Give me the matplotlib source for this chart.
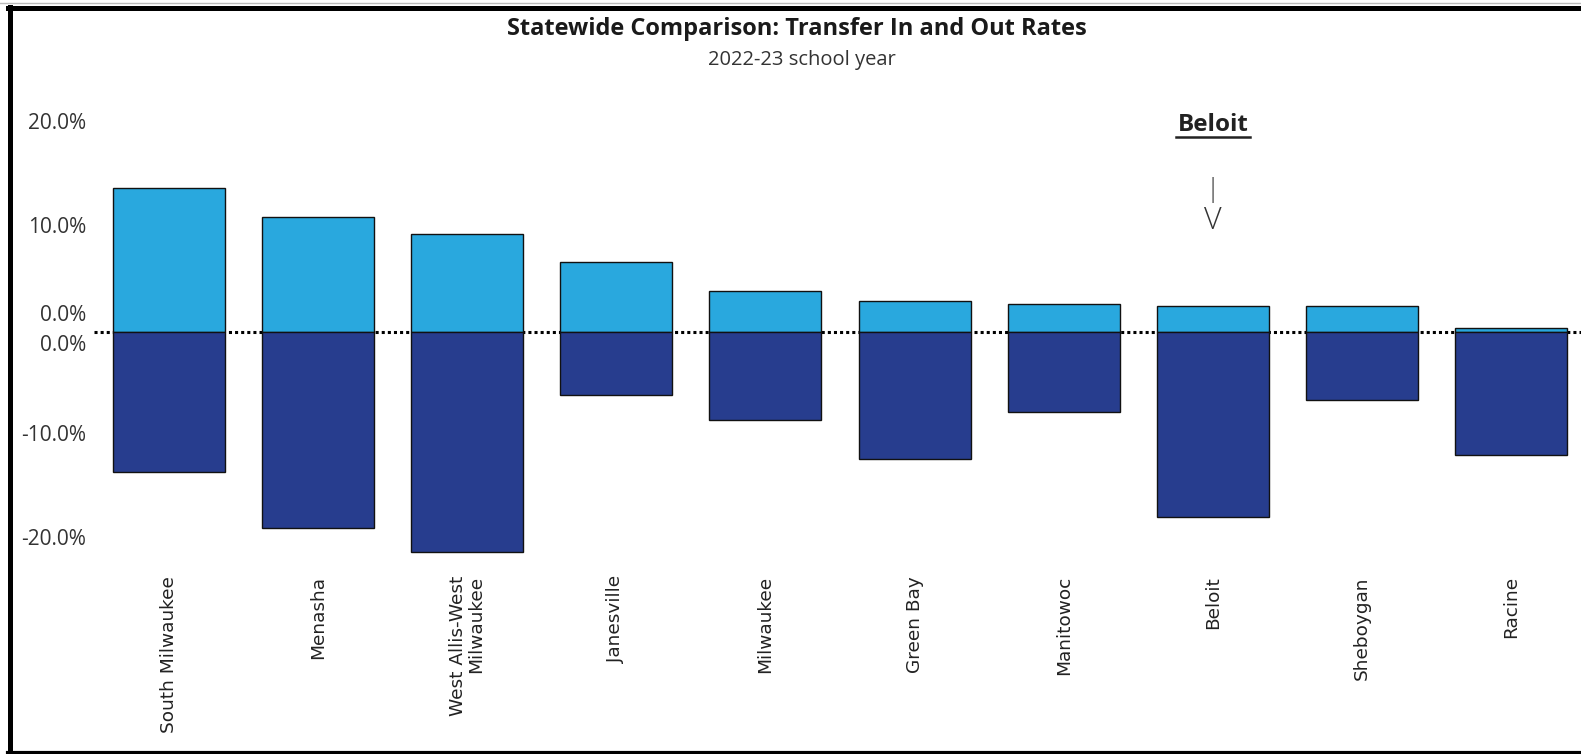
import matplotlib
matplotlib.use("Agg")
import matplotlib.pyplot as plt
from matplotlib.lines import Line2D
from matplotlib.transforms import blended_transform_factory

plt.rcParams['font.family'] = ['Open Sans', 'DejaVu Sans']

districts = ["South Milwaukee", "Menasha", "West Allis-West\nMilwaukee", "Janesville",
             "Milwaukee", "Green Bay", "Manitowoc", "Beloit", "Sheboygan", "Racine"]
transfer_in = [13.8, 11.0, 9.4, 6.7, 3.9, 2.95, 2.65, 2.5, 2.5, 0.3]
transfer_out = [-13.5, -18.9, -21.2, -6.1, -8.5, -12.25, -7.75, -17.8, -6.6, -11.9]
tick_labels = ["20.0%", "10.0%", "0.0%", "0.0%", "-10.0%", "-20.0%"]
tick_values = [20, 10, 0, 0, -10, -20]
highlight = "Beloit"

W, H = 1581, 754
fig = plt.figure(figsize=(W / 100, H / 100), dpi=100)
fig.patch.set_facecolor("white")

# axes geometry in pixels
left_px, right_px = 94, 1581
top_px, bot_px = 113.1, 565.5
band = 149.2
ax = fig.add_axes([left_px / W, 1 - bot_px / H, (right_px - left_px) / W, (bot_px - top_px) / H])
ax.set_xlim(-0.5, -0.5 + (right_px - left_px) / band)
ax.set_ylim(-22.5, 21)
ax.axis("off")

x = list(range(len(districts)))
ax.axhline(0, color="black", lw=2.2, ls=(0, (1, 1)), zorder=1)
ax.bar(x, transfer_in, width=0.75, color="#29a8de", edgecolor="#111111", lw=1.0, zorder=2)
ax.bar(x, transfer_out, width=0.75, color="#273d8e", edgecolor="#111111", lw=1.0, zorder=2)

# y tick labels (zeros nudged apart as in the reference)
tr_y = blended_transform_factory(fig.transFigure, ax.transData)
nudge = {2: 1.5, 3: -1.3}
for i, (lab, v) in enumerate(zip(tick_labels, tick_values)):
    ax.text(86 / W, v + nudge.get(i, 0), lab, transform=tr_y, ha="right", va="center",
            fontsize=15, color="#333333")

# category labels
tr_x = blended_transform_factory(ax.transData, fig.transFigure)
for i, name in enumerate(districts):
    ax.text(i, 1 - 576 / H, name, transform=tr_x, rotation=90, ha="center", va="top",
            multialignment="right", fontsize=13.3, family=["DejaVu Sans"], color="#222222",
            linespacing=0.95)

# title
fig.text(797 / W, 1 - 29 / H, "Statewide Comparison: Transfer In and Out Rates",
         ha="center", va="center", fontsize=17, fontweight="bold", color="#1a1a1a")
fig.text(802 / W, 1 - 60 / H, "2022-23 school year", ha="center", va="center",
         fontsize=14.5, color="#333333")

# highlight annotation
hi = districts.index(highlight)
ax.text(hi, 1 - 125 / H, highlight, transform=tr_x, ha="center", va="center",
        fontsize=17.5, fontweight="bold", color="#222222")
ax.plot([hi - 0.245, hi + 0.245], [1 - 137 / H, 1 - 137 / H], transform=tr_x,
        color="#222222", lw=1.8, clip_on=False)
ax.text(hi, 1 - 190 / H, "|", transform=tr_x, ha="center", va="center",
        fontsize=19, fontweight="light", color="#333333")
ax.text(hi, 1 - 221 / H, "V", transform=tr_x, ha="center", va="center",
        fontsize=22, fontweight="light", color="#333333")

# frame
fig.add_artist(Line2D([10 / W, 10 / W], [0, 1 - 7 / H], transform=fig.transFigure,
                      color="black", lw=3.6))
fig.add_artist(Line2D([8 / W, 1], [1 - 7.5 / H, 1 - 7.5 / H], transform=fig.transFigure,
                      color="black", lw=3.6))
fig.add_artist(Line2D([8 / W, 1], [1 - 752.5 / H, 1 - 752.5 / H], transform=fig.transFigure,
                      color="black", lw=3.0))
fig.add_artist(Line2D([0, 1], [1 - 3 / H, 1 - 3 / H], transform=fig.transFigure,
                      color="#bbbbbb", lw=1.0))

fig.savefig("out.png", dpi=100, facecolor="white")
